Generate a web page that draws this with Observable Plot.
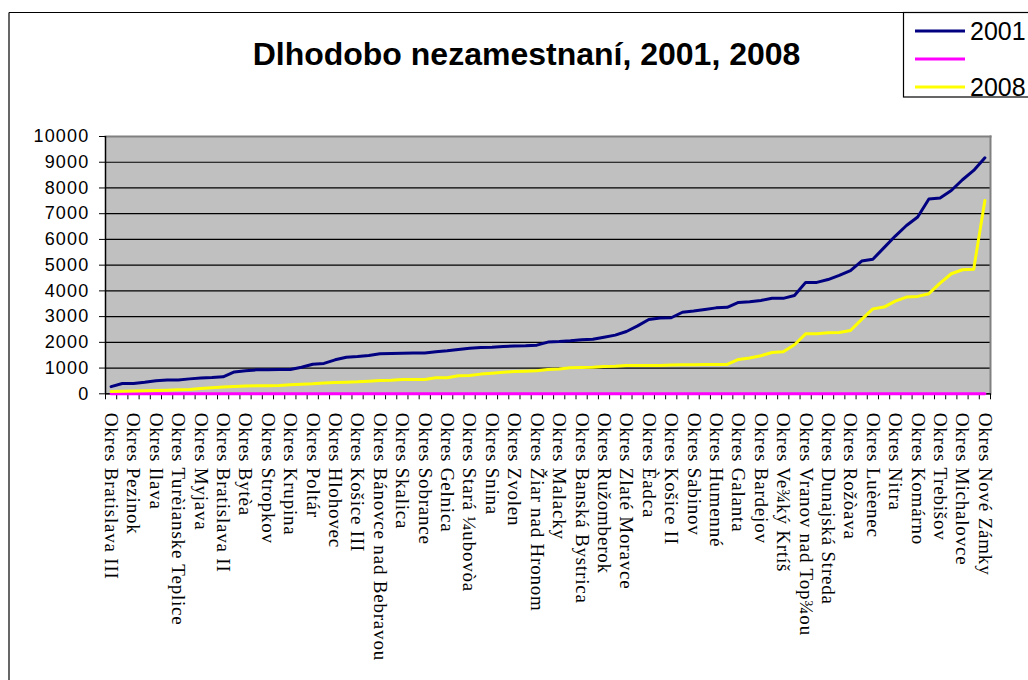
<!DOCTYPE html>
<html>
<head>
<meta charset="utf-8">
<script src="https://cdn.jsdelivr.net/npm/d3@7"></script>
<script src="https://cdn.jsdelivr.net/npm/@observablehq/plot@0.6"></script>
<style>
  html, body { margin: 0; padding: 0; background: #fff; }
  #chart { position: relative; width: 1028px; height: 680px; overflow: hidden; }
</style>
</head>
<body>
<div id="chart"></div>
<script>
// Shown category labels (every other district on the axis)
const districtLabels = ["Okres Bratislava III","Okres Pezinok","Okres Ilava","Okres Turèianske Teplice","Okres Myjava","Okres Bratislava II","Okres Bytèa","Okres Stropkov","Okres Krupina","Okres Poltár","Okres Hlohovec","Okres Košice III","Okres Bánovce nad Bebravou","Okres Skalica","Okres Sobrance","Okres Gelnica","Okres Stará ¼ubovòa","Okres Snina","Okres Zvolen","Okres Žiar nad Hronom","Okres Malacky","Okres Banská Bystrica","Okres Ružomberok","Okres Zlaté Moravce","Okres Èadca","Okres Košice II","Okres Sabinov","Okres Humenné","Okres Galanta","Okres Bardejov","Okres Ve¾ký Krtíš","Okres Vranov nad Top¾ou","Okres Dunajská Streda","Okres Rožòava","Okres Luèenec","Okres Nitra","Okres Komárno","Okres Trebišov","Okres Michalovce","Okres Nové Zámky"];

// Series values, one per district (79 districts)
const values2001 = [280,400,400,450,510,540,540,580,610,630,660,850,900,930,930,945,945,1030,1150,1180,1320,1420,1450,1490,1560,1570,1580,1590,1590,1630,1670,1720,1770,1800,1810,1840,1860,1865,1890,2010,2030,2060,2100,2120,2200,2280,2420,2640,2890,2950,2955,3170,3220,3280,3340,3360,3550,3580,3630,3710,3710,3820,4330,4330,4440,4600,4790,5160,5230,5680,6130,6540,6870,7570,7610,7900,8320,8680,9170];
const valuesBlank = [0,0,0,0,0,0,0,0,0,0,0,0,0,0,0,0,0,0,0,0,0,0,0,0,0,0,0,0,0,0,0,0,0,0,0,0,0,0,0,0,0,0,0,0,0,0,0,0,0,0,0,0,0,0,0,0,0,0,0,0,0,0,0,0,0,0,0,0,0,0,0,0,0,0,0,0,0,0,0];
const values2008 = [90,100,105,115,130,140,155,170,205,235,260,285,300,310,310,325,350,375,390,415,435,450,465,490,515,530,555,555,555,620,620,700,710,765,800,840,865,880,895,945,960,1010,1025,1035,1060,1075,1100,1100,1100,1100,1115,1125,1130,1140,1140,1140,1335,1390,1480,1605,1635,1905,2330,2330,2375,2385,2460,2890,3300,3370,3600,3760,3785,3890,4300,4665,4820,4845,7510];

const yTicks = [0,1000,2000,3000,4000,5000,6000,7000,8000,9000,10000];
const titleText = "Dlhodobo nezamestnaní, 2001, 2008";
const seriesNames = ["2001", "", "2008"];
const seriesColors = ["#000080", "#FF00FF", "#FFFF00"];

(function () {
const n = values2001.length;
const rows = values2001.map((v, i) => ({i, v2001: v, blank: valuesBlank[i], v2008: values2008[i]}));
const labelIdx = districtLabels.map((d, k) => 2 * k);
const boundaries = d3.range(n + 1).map(k => k - 0.5);

const W = 1028, H = 680;
const pLeft = 105, pRight = 990, pTop = 136, pBottom = 393.3;

const plot = Plot.plot({
  width: W,
  height: H,
  marginLeft: pLeft,
  marginRight: W - pRight,
  marginTop: pTop,
  marginBottom: H - pBottom,
  style: {background: "transparent", fontFamily: "Liberation Sans, Arial, sans-serif", overflow: "visible"},
  x: {type: "linear", domain: [-0.5, n - 0.5], axis: null, label: null},
  y: {domain: [0, 10000], axis: null, label: null},
  marks: [
    Plot.frame({fill: "#C0C0C0", stroke: "none"}),
    Plot.gridY(yTicks, {stroke: "#000", strokeOpacity: 1, strokeWidth: 1.2}),
    Plot.frame({anchor: "top", stroke: "#808080", strokeWidth: 2}),
    Plot.frame({anchor: "right", stroke: "#808080", strokeWidth: 2}),
    Plot.ruleX([-0.5], {stroke: "#000", strokeWidth: 1.5}),
    Plot.axisY(yTicks, {label: null, tickSize: 6, tickPadding: 10, fontSize: 18, fill: "#000", stroke: "#000", tickFormat: d => String(d), fontFamily: "Liberation Sans, Arial, sans-serif"}),
    Plot.axisX(boundaries, {label: null, tickSize: 6, tickFormat: () => "", stroke: "#000"}),
    Plot.axisX(labelIdx, {label: null, tickSize: 0, tickPadding: 19, tickRotate: 90, fontSize: 19, fill: "#000",
      fontFamily: "Liberation Serif, Times New Roman, serif", tickFormat: i => districtLabels[i / 2]}),
    Plot.ruleY([0], {stroke: "#000", strokeWidth: 1}),
    Plot.lineY(rows, {x: "i", y: "blank", stroke: seriesColors[1], strokeWidth: 3}),
    Plot.lineY(rows, {x: "i", y: "v2008", stroke: seriesColors[2], strokeWidth: 3}),
    Plot.lineY(rows, {x: "i", y: "v2001", stroke: seriesColors[0], strokeWidth: 3})
  ]
});

document.getElementById("chart").appendChild(plot);
const svg = d3.select(plot);
svg.style("position", "absolute").style("left", "0px").style("top", "0px");

svg.selectAll('g[aria-label="y-axis tick label"] text').style("letter-spacing", "1.2px");
svg.selectAll('g[aria-label="x-axis tick label"] text').style("letter-spacing", "0.8px");

// Outer chart border (left and top edges visible)
svg.append("line").attr("x1", 9).attr("y1", 12.5).attr("x2", 903).attr("y2", 12.5).attr("stroke", "#000").attr("stroke-width", 1.2);
svg.append("line").attr("x1", 9).attr("y1", 12.5).attr("x2", 9).attr("y2", H).attr("stroke", "#000").attr("stroke-width", 1.2);

// Title
svg.append("text").attr("x", 526.5).attr("y", 65).attr("text-anchor", "middle")
  .attr("font-family", "Liberation Sans, Arial, sans-serif").attr("font-weight", "bold").attr("font-size", 32)
  .attr("fill", "#000").text(titleText);

// Legend
const lg = svg.append("g");
lg.append("rect").attr("x", 903.5).attr("y", 12.5).attr("width", 140).attr("height", 84.5)
  .attr("fill", "#fff").attr("stroke", "#000").attr("stroke-width", 1.2);
const rowY = [31, 59, 87];
seriesNames.forEach((name, k) => {
  lg.append("line").attr("x1", 915).attr("x2", 965).attr("y1", rowY[k]).attr("y2", rowY[k])
    .attr("stroke", seriesColors[k]).attr("stroke-width", 3);
  if (name) lg.append("text").attr("x", 970).attr("y", rowY[k] + 9).attr("text-anchor", "start")
    .attr("font-family", "Liberation Sans, Arial, sans-serif").attr("font-size", 25).attr("fill", "#000").text(name);
});
})();
</script>
</body>
</html>
